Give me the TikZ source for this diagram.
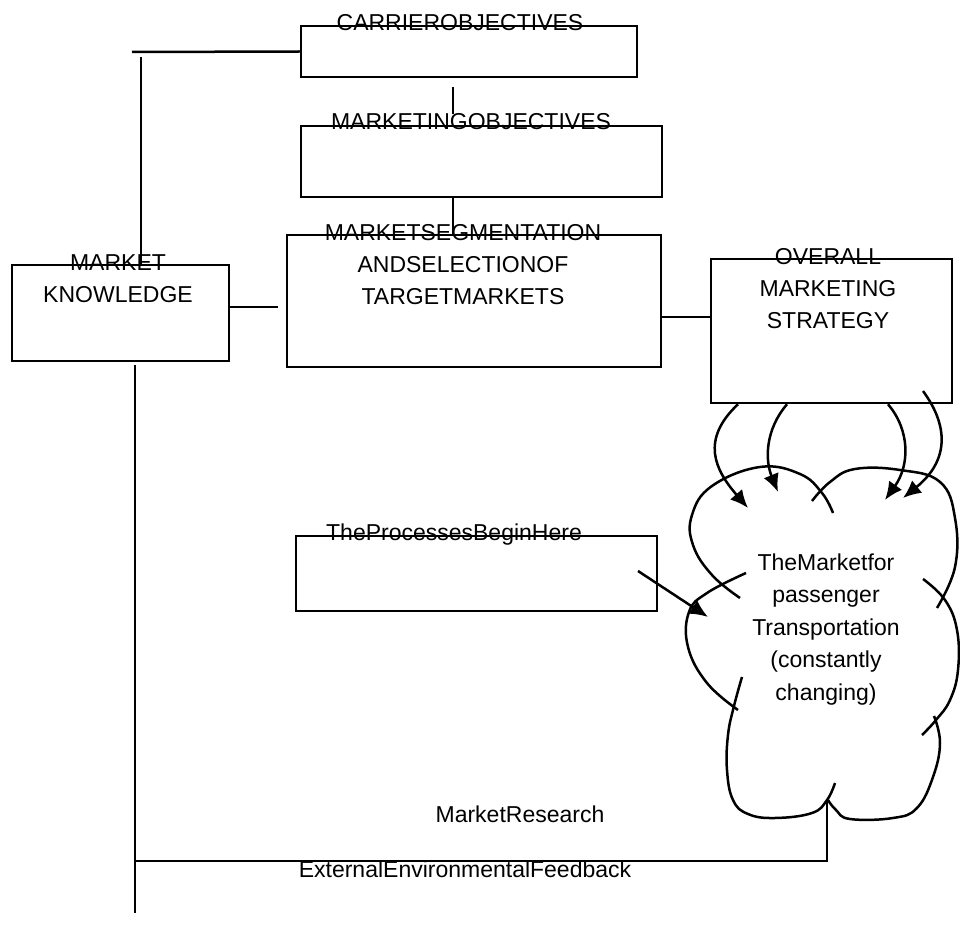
\documentclass[tikz,border=0pt]{standalone}
\usepackage{fontspec}
\setmainfont{Liberation Sans}
\usetikzlibrary{arrows.meta}

\begin{document}
\begin{tikzpicture}[x=0.5pt, y=-0.5pt,
  box/.style={draw, line width=1.25pt, inner sep=0pt},
  thinbox/.style={draw, line width=0.6pt, inner sep=0pt},
  lbl/.style={inner sep=0pt, anchor=base, align=center, font=\fontsize{11.5}{16.2}\selectfont},
  link/.style={line width=1.25pt},
  flow/.style={line width=1.25pt, -{Latex[length=9pt, width=8pt]}}]
\useasboundingbox (0,0) rectangle (960,941);

% boxes
\node (carrier)[box, minimum width=168pt, minimum height=25.5pt] at (469,51.5) {};
\node (mktobj)[thinbox, minimum width=180.5pt, minimum height=35.5pt] at (481.5,161.5) {};
\node (segment)[box, minimum width=187pt, minimum height=66pt] at (474,301) {};
\node (knowledge)[box, minimum width=108.5pt, minimum height=48pt] at (120.5,313) {};
\node (overall)[box, minimum width=120.5pt, minimum height=72pt] at (831.5,331) {};
\node (processes)[box, minimum width=180.5pt, minimum height=37.5pt] at (476.5,573.5) {};

% labels (multi-line ones sit on their last line)
\node (carrierlbl)[lbl] at (460,31) {CARRIEROBJECTIVES};
\node (mktobjlbl)[lbl] at (471,130) {MARKETINGOBJECTIVES};
\node (segmentlbl)[lbl] at (463,305) {MARKETSEGMENTATION\\ANDSELECTIONOF\\TARGETMARKETS};
\node (knowledgelbl)[lbl] at (118,303) {MARKET\\KNOWLEDGE};
\node (overalllbl)[lbl] at (828,329) {OVERALL\\MARKETING\\STRATEGY};
\node (processeslbl)[lbl] at (454,541) {TheProcessesBeginHere};
\node (marketlbl)[lbl] at (826,700) {TheMarketfor\\passenger\\Transportation\\(constantly\\changing)};
\node (researchlbl)[lbl] at (520,822) {MarketResearch};
\node (feedbacklbl)[lbl] at (465,877) {ExternalEnvironmentalFeedback};

% the cloud
\draw[link] plot[smooth, tension=0.7] coordinates {(740,598) (712,575) (693,545) (692,515) (712,486) (760,467) (800,474) (822,493) (833,513)};
\draw[link] plot[smooth, tension=0.7] coordinates {(812,501) (830,482) (855,469) (900,470) (940,482) (955,518) (955,567) (937,608)};
\draw[link] plot[smooth, tension=0.7] coordinates {(923,579) (945,600) (957,630) (958,670) (950,700) (936,720) (922,735)};
\draw[link] plot[smooth, tension=0.7] coordinates {(934,716) (940,743) (933,777) (917,808) (893,818) (850,819) (836,810) (828,800)};
\draw[link] plot[smooth, tension=0.7] coordinates {(742,677) (734,706) (728,735) (727,770) (733,800) (748,814) (775,818) (812,813) (827,800) (835,783)};
\draw[link] plot[smooth, tension=0.7] coordinates {(738,710) (707,683) (688,647) (689,612) (707,593) (746,573)};

% connectors
\coordinate (topleft) at (132,52);
\coordinate (upright) at (141,57);
\coordinate (stubtop) at (453,87);
\coordinate (stubbot) at (453,114);
\coordinate (kstub) at (278,307);
\coordinate (strat) at (0,317);
\coordinate (down) at (135,365);
\coordinate (bottom) at (135,913);
\coordinate (fb) at (135,861);
\coordinate (cloudfoot) at (827,800);
\draw[link] (carrier.west) -- (topleft);
\draw[link] (upright) -- (upright |- knowledge.north);
\draw[link] (stubtop) -- (stubbot);
\draw[link] (mktobj.south -| stubtop) -- (segment.north -| stubtop);
\draw[link] (knowledge.east |- kstub) -- (kstub);
\draw[link] (segment.east |- strat) -- (overall.west |- strat);
\draw[link] (down) -- (bottom);
\draw[link] (fb) -- (fb -| cloudfoot) -- (cloudfoot);

% arrows into the cloud
\coordinate (tip1) at (748,508);
\coordinate (tip2) at (778,492);
\coordinate (tip3) at (885,500);
\coordinate (tip4) at (903,498);
\coordinate (pstart) at (638,571);
\coordinate (ptip) at (708,617);
\draw[flow] (overall.south -| 738,0) .. controls (700,440) and (715,470) .. (tip1);
\draw[flow] (overall.south -| 787,0) .. controls (765,430) and (765,460) .. (tip2);
\draw[flow] (overall.south -| 888,0) .. controls (910,430) and (910,465) .. (tip3);
\draw[flow] (923,391) .. controls (948,425) and (950,460) .. (tip4);
\draw[flow] (pstart) -- (ptip);
\end{tikzpicture}
\end{document}
